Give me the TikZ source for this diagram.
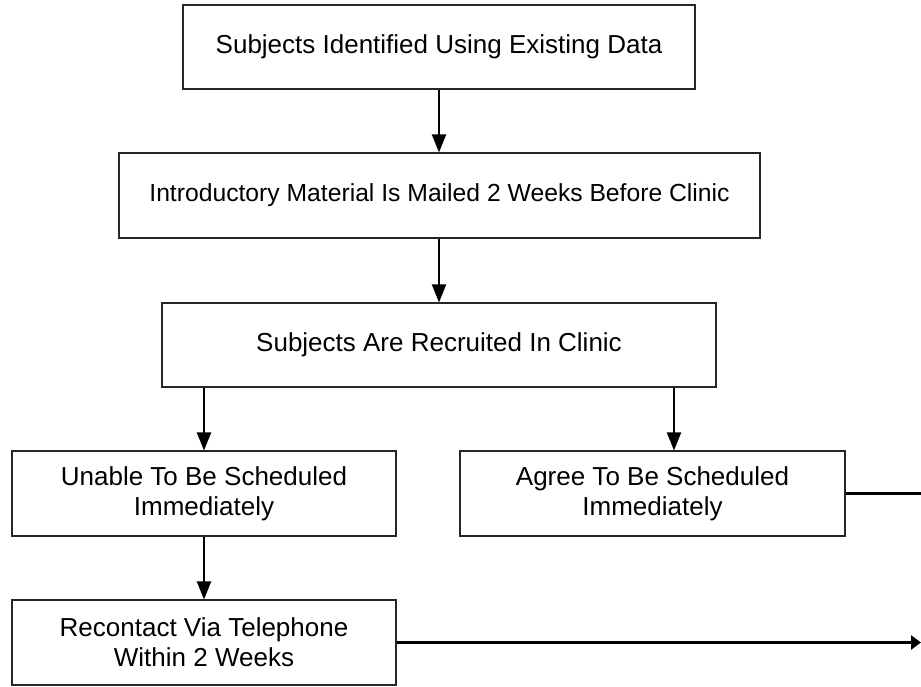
\documentclass[tikz,border=0pt]{standalone}
\usepackage{fontspec}
\setmainfont{Liberation Sans}
\usetikzlibrary{arrows.meta}
\begin{document}
\begin{tikzpicture}[x=1pt,y=-1pt,
  box/.style={draw=black!85, line width=1.1pt, align=center, inner sep=0pt,
    font=\fontsize{26}{30}\selectfont},
  arr/.style={line width=2pt, -{Triangle[length=18pt,width=14pt]}},
  link/.style={line width=3pt}]
\fill[white] (0,0) rectangle (921,686);
\useasboundingbox (0,0) rectangle (921,686);

% process boxes
\node[box, minimum width=512pt, minimum height=84pt] (b1) at (439,47)
  {Subjects Identified Using Existing Data};
\node[box, minimum width=641pt, minimum height=85pt,
  font=\fontsize{24.7}{30}\selectfont] (b2) at (439.5,195.5)
  {Introductory Material Is Mailed 2 Weeks Before Clinic};
\node[box, minimum width=554pt, minimum height=84pt] (b3) at (439,345)
  {Subjects Are Recruited In Clinic};
\node[box, minimum width=384pt, minimum height=85pt] (b4) at (204,493.5)
  {Unable To Be Scheduled\\Immediately};
\node[box, minimum width=385pt, minimum height=85pt] (b5) at (652.5,493.5)
  {Agree To Be Scheduled\\Immediately};
\node[box, minimum width=384pt, minimum height=85pt] (b6) at (204,642.5)
  {Recontact Via Telephone\\Within 2 Weeks};

% helper coordinates for the connector positions
\coordinate (split) at (674,0);
\coordinate (edge) at (921,0);

% connectors
\draw[arr] (b1.south) -- (b1.south |- b2.north);
\draw[arr] (b2.south -| b1.south) -- (b3.north -| b1.south);
\draw[arr] (b3.south -| b4.north) -- (b4.north);
\draw[arr] (b3.south -| split) -- (b5.north -| split);
\draw[arr] (b4.south) -- (b6.north);
\draw[link] (b5.east) -- (b5.east -| edge);
\draw[link, -{Triangle[length=10pt,width=14pt]}] (b6.east) -- (b6.east -| edge);
\end{tikzpicture}
\end{document}
